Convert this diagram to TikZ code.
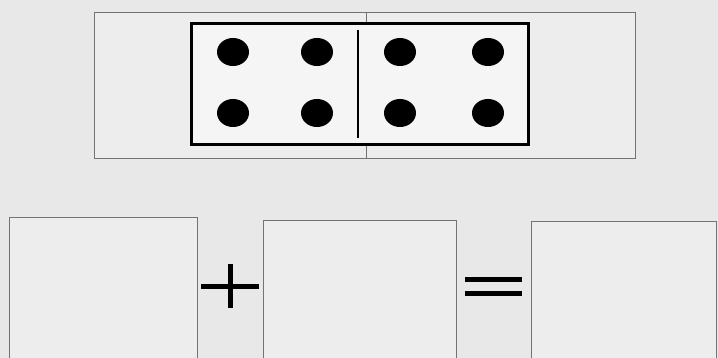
\documentclass[tikz,border=0pt]{standalone}
\usetikzlibrary{positioning}

\begin{document}
\begin{tikzpicture}[x=1pt, y=-1pt, paper/.style={fill=black!9}, card/.style={draw=black!55, line width=0.8pt, fill=black!7}, pip/.style={fill=black}, sign/.style={line width=5pt, black}]
  \useasboundingbox (0,0) rectangle (718,358);
  \fill[paper] (0,0) rectangle (718,358);

  % the folded card with the domino
  \begin{scope}
    \draw[card] (94,12) rectangle (635,158);
    \draw[black!55, line width=0.8pt] (366,12) -- (366,158);
    \draw[line width=3pt, fill=black!4] (191,24) rectangle (528,145);
    \draw[line width=1.5pt] (358,30) -- (358,138);
    \foreach \x in {233,317,400,488}
      \foreach \y in {52,113}
        \fill[pip] (\x,\y) ellipse (16 and 14);
  \end{scope}

  % the sum to fill in
  \begin{scope}
    \draw[card] (9,217) rectangle (197,362);
    \draw[card] (263,220) rectangle (456,362);
    \draw[card] (531,221) rectangle (716,362);
    \draw[sign] (201,287) -- (259,287);
    \draw[sign] (230,264) -- (230,308);
    \draw[sign] (465,280) -- (522,280);
    \draw[sign] (465,294) -- (522,294);
  \end{scope}
\end{tikzpicture}
\end{document}
